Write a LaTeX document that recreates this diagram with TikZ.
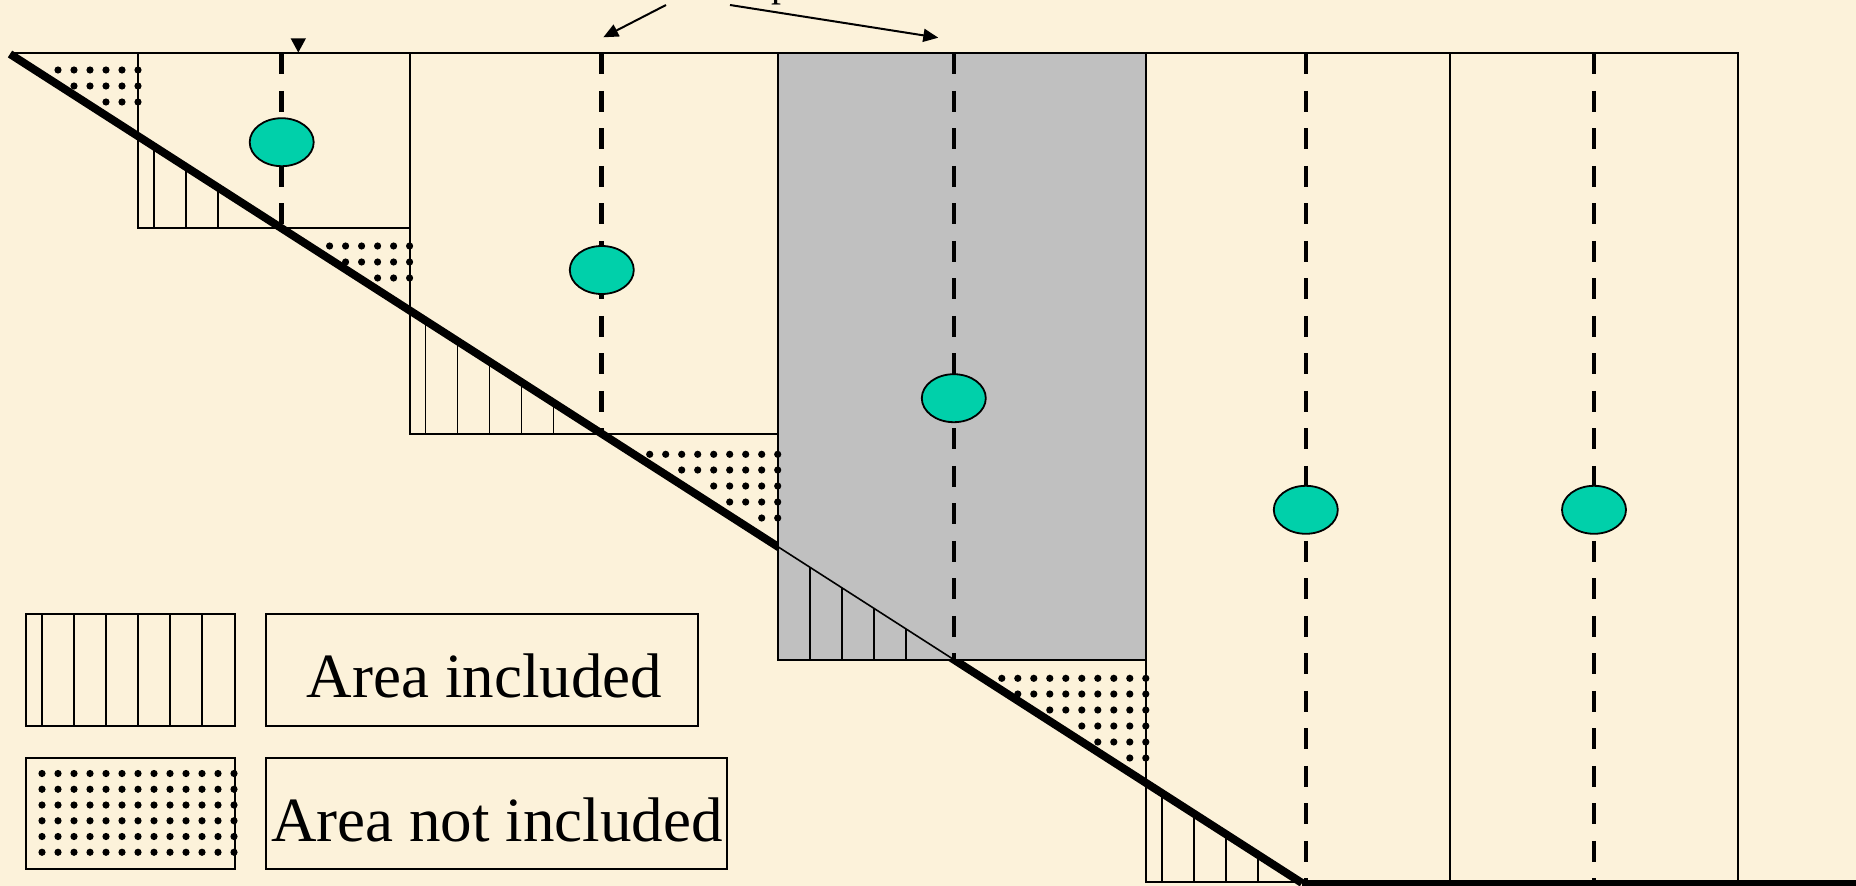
\documentclass[tikz,border=0pt]{standalone}
\usepackage{fontspec}
\setmainfont{Liberation Serif}
\usetikzlibrary{arrows.meta,shapes.geometric}
\definecolor{bgcream}{RGB}{252,242,218}
\definecolor{boxgray}{RGB}{192,192,192}
\definecolor{pointcol}{RGB}{0,208,170}
\begin{document}
\begin{tikzpicture}[x=1pt,y=-1pt,
  boxline/.style={line width=2pt},
  hatchline/.style={line width=1.6pt},
  groundline/.style={line width=8pt},
  centreline/.style={line width=4.6pt, dash pattern=on 21pt off 16.5pt},
  centrept/.style={ellipse, draw, line width=1.8pt, fill=pointcol, minimum width=64pt, minimum height=48pt, inner sep=0pt},
  pointer/.style={line width=2pt, -{Triangle[length=15pt,width=13pt]}},
  legendtext/.style={anchor=base, inner sep=0pt, font=\fontsize{63}{70}\selectfont}]
\useasboundingbox (0,0) rectangle (1856,886);
\fill[bgcream] (0,0) rectangle (1856,886);

% ground line
\coordinate (P0) at (10,54);
\coordinate (P1) at (1302,883);
\draw[groundline] (P0) -- (P1);
\draw[line width=7pt] (P1) -- (1856,883);

% grey slice
\filldraw[fill=boxgray, boxline] (777.7,53.3) rectangle (1145.8,659.6);
\begin{scope}
  \clip (777.7,53.3) rectangle (1145.8,659.6);
  \draw[hatchline] (P0) -- (P1);
\end{scope}

% dots (area not included)
\foreach \L/\y/\n in {138/70/6, 138/86/5, 138/102/3,
    409.6/246/6, 409.6/262/5, 409.6/278/3,
    777.7/454.3/9, 777.7/470/7, 777.7/486/5, 777.7/502/4, 777.7/518/2,
    1145.8/678.3/10, 1145.8/694/9, 1145.8/710/7, 1145.8/726/5, 1145.8/742/4, 1145.8/758/2}
  \foreach \k in {1,...,\n}
    \fill (\L-16*\k+16,\y) circle[radius=3.6];

% hatching (area included)
\foreach \B/\xs in {228.3/{153.7,185.7,217.7},
    433.7/{425.6,457.6,489.6,521.6,553.6},
    659.6/{809.7,841.7,873.7,905.7},
    882/{1161.8,1193.8,1225.8,1257.8}}
  \foreach \x in \xs {
    \pgfmathsetmacro\yt{54+0.641641*(\x-10)}
    \draw[hatchline] (\x,\B) -- (\x,\yt);
  }

% slice outlines
\draw[boxline] (12,53.3) -- (1737.7,53.3);
\draw[boxline] (138,53.3) rectangle (409.6,228.3);
\draw[boxline] (409.6,53.3) rectangle (777.7,433.7);
\draw[boxline] (777.7,53.3) rectangle (1145.8,659.6);
\draw[boxline] (1145.8,53.3) rectangle (1450,882);
\draw[boxline] (1450,53.3) rectangle (1737.7,882);

% centre lines
\coordinate (t1) at (281.7,53.3);  \coordinate (b1) at (281.7,228.3);
\coordinate (t2) at (601.7,53.3);  \coordinate (b2) at (601.7,433.7);
\coordinate (t3) at (953.8,53.3);  \coordinate (b3) at (953.8,659.6);
\coordinate (t4) at (1305.8,53.3); \coordinate (b4) at (1305.8,882);
\coordinate (t5) at (1594,53.3);   \coordinate (b5) at (1594,882);
\foreach \i in {1,...,5} \draw[centreline] (t\i) -- (b\i);

% centre points
\node[centrept] (e1) at (281.7,142.2) {};
\node[centrept] (e2) at (601.8,270) {};
\node[centrept] (e3) at (953.8,398.2) {};
\node[centrept] (e4) at (1305.8,509.8) {};
\node[centrept] (e5) at (1594,509.8) {};

% pointers from the (cut-off) title
\node[anchor=base, inner sep=0pt, font=\fontsize{40}{48}\selectfont] (ptxt) at (781,-3.7) {p};
\coordinate (a1s) at (666,5);   \coordinate (a1e) at (603.3,37.3);
\coordinate (a2s) at (730,5);   \coordinate (a2e) at (938.3,37.7);
\draw[pointer] (a1s) -- (a1e);
\draw[pointer] (a2s) -- (a2e);
\fill (290.6,38.3) -- (306,38.3) -- (298.3,52.5) -- cycle;

% legend
\draw[boxline] (26,614) rectangle (234.5,726);
\foreach \x in {42,74,106,138,170,202}
  \draw[hatchline] (\x,614) -- (\x,726);
\draw[boxline] (265.7,614) rectangle (698,726);
\node[legendtext] (l1) at (484.5,697) {Area included};

\draw[boxline] (26,757.7) rectangle (234.5,869.3);
\foreach \j in {0,...,5}
  \foreach \k in {0,...,12}
    \fill (42+16*\k,773.5+15.75*\j) circle[radius=3.6];
\draw[boxline] (265.7,757.7) rectangle (726.8,869.3);
\node[legendtext] (l2) at (497,841) {Area not included};
\end{tikzpicture}
\end{document}
